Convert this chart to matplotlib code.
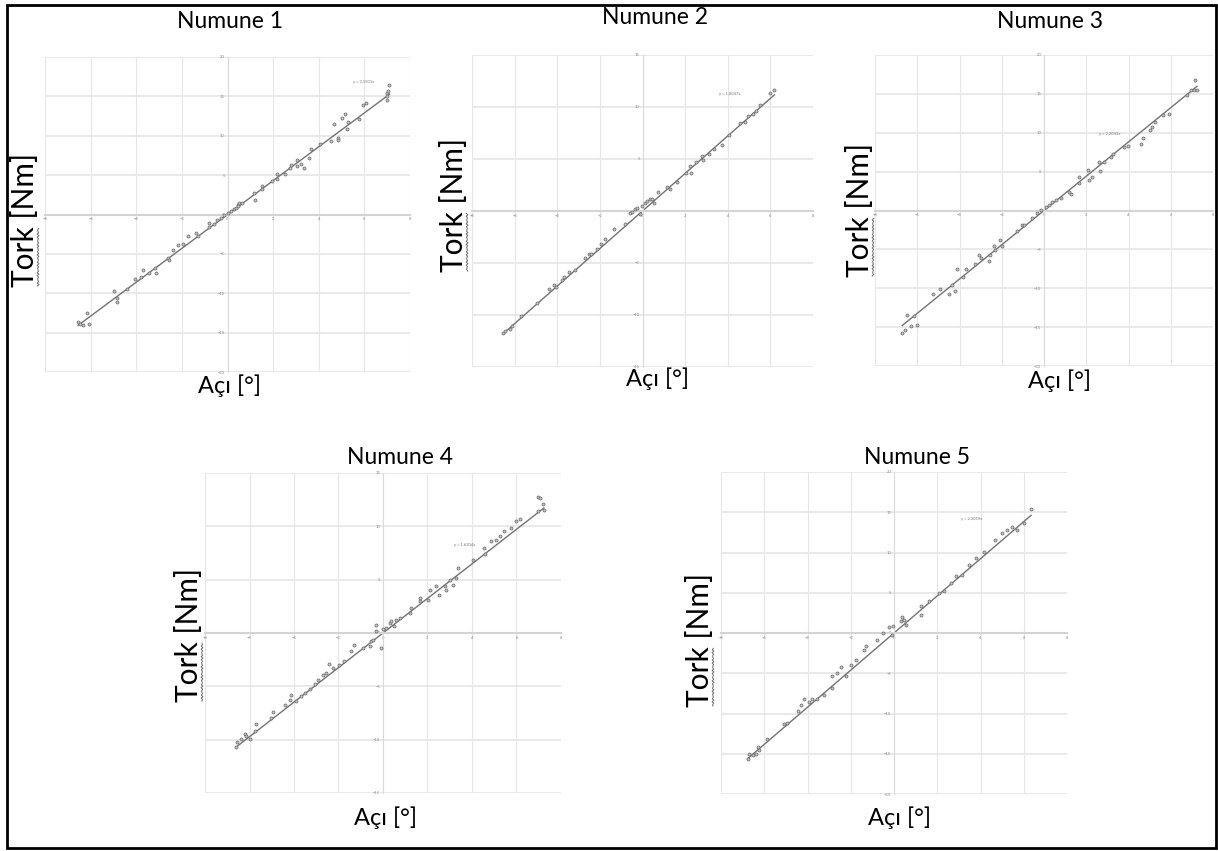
import numpy as np
import matplotlib
matplotlib.use("Agg")
import matplotlib.pyplot as plt
from matplotlib.lines import Line2D
from matplotlib.patches import Rectangle

plt.rcParams['font.family'] = ['Lato', 'DejaVu Sans']

W, H = 1218, 851

# --- data (angle [deg], torque [Nm]) ---
x1 = [-6.55, -6.47, -6.33, -6.18, -6.07, -4.97, -4.84, -4.84, -4.39, -4.07, -3.81, -3.71,
      -3.46, -3.2, -3.13, -2.62, -2.55, -2.4, -2.15, -1.96, -1.72, -1.38, -1.31, -0.8,
      -0.8, -0.61, -0.44, -0.29, -0.15, 0.0, 0.15, 0.29, 0.36, 0.44, 0.51, 0.48, 0.65,
      1.16, 1.21, 1.53, 1.53, 1.96, 2.18, 2.18, 2.5, 2.76, 2.79, 3.05, 3.05, 3.2, 3.36,
      3.56, 3.68, 4.04, 4.54, 4.84, 4.84, 4.68, 5.02, 5.16, 5.24, 5.28, 5.75, 5.96, 6.07,
      6.98, 7.0, 7.05, 7.1, 6.98]
y1 = [-13.7, -13.9, -14.0, -12.5, -13.9, -9.75, -10.6, -11.1, -9.4, -8.2, -7.9, -7.0,
      -7.4, -6.8, -7.4, -5.5, -5.8, -4.5, -3.9, -3.7, -2.75, -2.3, -2.75, -1.06,
      -1.57, -1.19, -0.64, -0.42, -0.08, 0.13, 0.42, 0.72, 0.85, 1.19, 1.48, 1.06, 1.48,
      2.67, 1.82, 3.6, 3.18, 4.24, 5.1, 4.45, 5.1, 5.93, 6.23, 6.9, 6.14, 6.36, 5.93,
      7.2, 8.26, 9.0, 9.3, 9.66, 9.4, 11.44, 12.3, 12.7, 10.8, 11.7, 12.1, 13.86, 14.1,
      14.6, 15.4, 15.7, 16.5, 15.04]

x2 = [-6.55, -6.44, -6.23, -6.13, -5.7, -4.95, -4.41, -4.14, -4.05, -3.78, -3.7, -3.47,
      -3.16, -2.69, -2.53, -2.4, -2.14, -1.95, -1.75, -1.36, -0.81, -0.58, -0.5, -0.34,
      -0.27, -0.14, -0.03, 0.13, 0.23, 0.33, 0.44, 0.52, 0.75, 1.17, 1.27, 1.61, 2.05,
      2.27, 2.23, 2.52, 2.78, 2.86, 3.14, 3.36, 3.72, 4.08, 4.58, 4.81, 4.97, 5.17, 5.33,
      5.52, 5.98, 6.19]
y2 = [-11.7, -11.55, -11.3, -11.06, -10.06, -8.8, -7.5, -7.1, -7.3, -6.6, -6.35, -5.9,
      -5.65, -4.5, -4.1, -4.1, -3.7, -3.13, -2.68, -1.77, -1.29, -0.23, -0.1, 0.16,
      0.32, -0.32, 0.48, 0.8, 0.97, 1.13, 1.19, 0.74, 1.87, 2.35, 2.16, 2.8, 3.7,
      3.7, 4.3, 4.68, 5.32, 4.94, 5.48, 5.97, 6.35, 7.32, 8.48, 8.55, 9.13, 9.35, 9.58,
      10.16, 11.3, 11.6]

x3 = [-6.71, -6.56, -6.5, -6.3, -6.16, -6.03, -5.27, -4.92, -4.48, -4.21, -4.37, -4.1,
      -3.84, -3.68, -3.25, -3.1, -2.98, -2.62, -2.54, -2.38, -2.33, -2.06, -1.98, -1.3,
      -1.03, -0.95, -0.59, -0.32, -0.16, 0.08, 0.24, 0.4, 0.56, 0.79, 1.19, 1.27, 1.67,
      1.67, 2.06, 2.14, 2.25, 2.67, 2.62, 2.86, 3.17, 3.25, 3.81, 3.97, 4.57, 4.68, 5.0,
      5.13, 5.24, 5.63, 5.92, 6.75, 6.98, 7.11, 7.17, 7.24]
y3 = [-15.8, -15.4, -13.5, -14.8, -13.6, -14.7, -10.8, -10.1, -10.8, -10.3, -9.6, -7.5,
      -8.5, -7.5, -6.84, -5.68, -6.1, -6.5, -5.68, -4.6, -5.04, -3.76, -4.6, -2.7,
      -1.84, -1.84, -0.98, -0.26, 0.09, 0.51, 0.73, 1.03, 1.37, 1.58, 2.44, 2.14, 4.36,
      3.5, 5.2, 3.93, 4.36, 5.08, 6.28, 6.28, 6.9, 7.26, 8.2, 8.3, 8.6, 9.27, 10.3,
      10.7, 11.4, 12.26, 12.4, 14.8, 15.5, 15.55, 16.84, 15.55]

x4 = [-6.6, -6.57, -6.37, -6.22, -6.15, -6.0, -5.77, -5.73, -5.02, -4.95, -4.42, -4.2,
      -4.12, -3.9, -3.67, -3.52, -3.3, -3.07, -2.92, -2.7, -2.55, -2.43, -2.25, -1.98,
      -1.75, -1.42, -1.32, -0.9, -0.6, -0.52, -0.45, -0.3, -0.3, -0.07, 0.0, 0.15, 0.3,
      0.37, 0.48, 0.6, 0.75, 1.2, 1.27, 1.65, 1.68, 2.02, 2.13, 2.4, 2.52, 2.77, 2.85,
      3.0, 3.15, 3.3, 3.37, 4.05, 4.53, 4.57, 4.87, 5.07, 5.25, 5.44, 5.77, 5.97, 6.15,
      6.97, 6.97, 7.05, 7.2, 7.23]
y4 = [-10.7, -10.25, -9.94, -9.44, -9.69, -9.94, -9.22, -8.53, -7.97, -7.44, -6.72, -6.25,
      -5.78, -6.34, -5.94, -5.63, -5.25, -4.75, -4.38, -3.9, -3.75, -2.88, -3.28, -2.97,
      -2.66, -1.72, -1.09, -1.4, -1.25, -0.78, -0.63, 0.78, 0.16, -1.4, 0.38, 0.47, 0.94,
      1.09, 0.69, 1.25, 1.41, 1.88, 2.34, 2.97, 3.28, 3.13, 4.06, 4.38, 3.59, 4.38, 4.06,
      5.0, 4.53, 5.16, 6.1, 6.88, 7.97, 7.41, 8.59, 8.75, 9.13, 9.53, 9.84, 10.47, 10.69,
      11.4, 12.72, 12.66, 12.13, 11.56]

x5 = [-6.77, -6.69, -6.54, -6.38, -6.31, -6.23, -5.85, -5.08, -4.95, -4.46, -4.31, -4.18,
      -3.92, -3.8, -3.54, -3.23, -2.88, -2.85, -2.62, -2.46, -2.2, -2.0, -1.77, -1.38,
      -1.31, -0.77, -0.49, -0.23, -0.03, -0.08, 0.31, 0.38, 0.46, 0.54, 1.23, 1.23, 1.62,
      2.08, 2.31, 2.62, 2.85, 3.15, 3.46, 3.77, 4.18, 4.69, 5.0, 5.23, 5.46, 5.69, 6.0,
      6.34]
y5 = [-15.7, -15.08, -15.2, -15.08, -14.13, -14.55, -13.14, -11.36, -11.24, -9.71, -8.97, -8.18,
      -8.6, -8.18, -8.18, -7.64, -6.82, -5.29, -4.96, -4.21, -5.37, -3.93, -3.31, -2.07,
      -1.57, -0.83, 0.0, 0.74, 0.83, -0.21, 1.45, 1.98, 1.65, 1.03, 3.31, 2.27, 3.93,
      4.96, 5.17, 6.2, 7.02, 7.23, 8.47, 9.3, 10.12, 11.57, 12.4, 12.81, 13.22, 12.81, 13.64,
      15.41]

slopes = [2.1501, 1.8047, 2.2043, 1.6204, 2.3059]
eq_labels = ["y = 2,1501x", "y = 1,8047x", "y = 2,2043x", "y = 1,6204x", "y = 2,3059x"]
titles = ["Numune 1", "Numune 2", "Numune 3", "Numune 4", "Numune 5"]
ylims = [20, 15, 20, 15, 20]

xs = [x1, x2, x3, x4, x5]
ys = [y1, y2, y3, y4, y5]

# layout in pixels: left, right, top, bottom of each plot area
boxes = [(45, 410, 57, 372), (472, 813, 55, 367), (875, 1213, 55, 366),
         (205, 561, 473, 793), (721, 1067, 472, 794)]
eq_pos = [(5.5, 16.7), (3.6, 11.2), (2.6, 9.7), (3.2, 8.2), (3.1, 14.0)]
title_pos = [(230, 21), (655, 17), (1050, 21), (400, 458), (917, 458)]
ylab_pos = [(25, 220), (454, 205), (860, 210), (189, 635), (700, 640)]
xlab_pos = [(230, 386), (658, 379), (1060, 381), (385, 818), (900, 818)]

fig = plt.figure(figsize=(W / 100, H / 100), dpi=100)

for i in range(5):
    l, r, t, b = boxes[i]
    ax = fig.add_axes([l / W, 1 - b / H, (r - l) / W, (b - t) / H])
    lim = ylims[i]
    ax.set_xlim(-8, 8)
    ax.set_ylim(-lim, lim)
    ax.set_xticks(np.arange(-8, 9, 2))
    ax.set_yticks(np.arange(-lim, lim + 1, 5))
    ax.grid(True, axis='x', color='#e6e6e6', lw=0.8)
    ax.grid(True, axis='y', color='#e9e9e9', lw=1.4)
    ax.set_axisbelow(True)
    for s in ['top', 'right']:
        ax.spines[s].set_visible(False)
    ax.spines['left'].set_position('zero')
    ax.spines['bottom'].set_position('zero')
    ax.spines['left'].set_color('#d9d9d9')
    ax.spines['bottom'].set_color('#d4d4d4')
    ax.spines['bottom'].set_linewidth(1.5)
    ax.tick_params(length=0, labelsize=3, colors='#888888', pad=2)

    xa = np.array(xs[i])
    ya = np.array(ys[i])
    ax.plot(xa, ya, 'o', ms=2.2, mfc='#c4c4c4', mec='#666666', mew=0.5, zorder=3)
    xl = np.array([xa.min(), xa.max()])
    ax.plot(xl, slopes[i] * xl, color='#737373', lw=1.0, zorder=2)
    ax.text(eq_pos[i][0], eq_pos[i][1], eq_labels[i], fontsize=3, color='#777777')

    fig.text(title_pos[i][0] / W, 1 - title_pos[i][1] / H, titles[i],
             fontsize=16.5, ha='center', va='center')
    fig.text(xlab_pos[i][0] / W, 1 - xlab_pos[i][1] / H, "Açı [°]",
             fontsize=17, ha='center', va='center')
    yl = fig.text(ylab_pos[i][0] / W, 1 - ylab_pos[i][1] / H, "Tork [Nm]",
                  fontsize=21.5, ha='center', va='center', rotation=90)

    # spell-check squiggle under "Tork"
    fig.canvas.draw()
    bb = yl.get_window_extent()
    probe = fig.text(0, 0, "Tork", fontsize=21.5, rotation=90)
    pb = probe.get_window_extent()
    probe.remove()
    yy = np.linspace(bb.y0 + 1, bb.y0 + pb.height - 2, 40)
    xx = bb.x1 - 1 + 0.9 * np.sin(yy * 1.8)
    fig.add_artist(Line2D(xx / W, yy / H, color='#6a6a6a', lw=0.7,
                          transform=fig.transFigure))

fig.add_artist(Rectangle((7 / W, 3 / H), 1209 / W, 843 / H, fill=False,
                         ec='black', lw=2, transform=fig.transFigure))

fig.savefig("out.png", dpi=100)
